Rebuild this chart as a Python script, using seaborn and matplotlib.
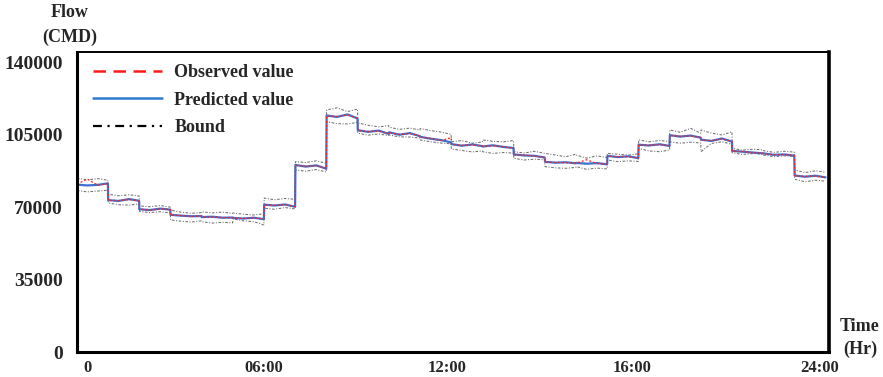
import numpy as np
import pandas as pd
import matplotlib
matplotlib.use("Agg")
import matplotlib.pyplot as plt
from matplotlib.lines import Line2D
import seaborn as sns

# Hourly blocks, four readings per hour
hours = np.arange(24)
sub_hour = [0.0, 0.33, 0.67, 0.99]

predicted = [
    80900, 80500, 80800, 81500,
    73400, 73000, 73900, 73100,
    69000, 68600, 69300, 68800,
    66300, 65900, 65600, 65700,
    65200, 65400, 64900, 65000,
    64800, 64500, 64900, 64200,
    71200, 70800, 71300, 70200,
    90400, 89600, 90200, 88600,
    114300, 113600, 114800, 112900,
    107200, 106400, 107000, 105400,
    106200, 105000, 105800, 104300,
    104000, 103100, 102400, 101300,
    100500, 99700, 100300, 99500,
    99300, 99900, 99100, 98600,
    95500, 95000, 94800, 94000,
    91900, 91500, 91700, 91200,
    91400, 91000, 91300, 90700,
    94800, 94200, 94600, 93700,
    100200, 99800, 100400, 99600,
    104800, 104100, 104600, 103600,
    102600, 102000, 103200, 101700,
    97200, 96800, 96400, 96000,
    96000, 95300, 95500, 94900,
    85300, 84700, 85200, 84400,
]

observed = [
    81100, 83600, 80600, 81300,
    73300, 73200, 73700, 73000,
    69100, 68500, 69200, 68900,
    66100, 66000, 65500, 65800,
    65300, 65200, 65000, 64900,
    64700, 64600, 64800, 64300,
    71000, 70900, 71200, 70300,
    90200, 89800, 90000, 88700,
    114100, 113800, 114600, 113000,
    107000, 106600, 106800, 105600,
    106000, 105200, 105600, 104400,
    103800, 103300, 102200, 103600,
    100300, 99900, 100100, 99600,
    99400, 99700, 99200, 98500,
    95300, 95200, 94600, 94100,
    91800, 91600, 91500, 91300,
    91300, 92900, 91100, 90800,
    94600, 94400, 94400, 93800,
    100000, 100000, 100200, 99700,
    104600, 104300, 104400, 103700,
    102400, 102200, 103000, 101800,
    97000, 96900, 96300, 96100,
    95800, 95400, 95300, 95000,
    85100, 84900, 85000, 84500,
]

upper_bound = [
    84000, 83200, 83800, 83000,
    76300, 75500, 76000, 75400,
    70600, 70200, 70800, 70000,
    68600, 67600, 67000, 67400,
    67800, 67200, 67600, 67000,
    67200, 66600, 66200, 66800,
    74400, 73600, 74200, 73800,
    92000, 91600, 92400, 91200,
    117000, 118000, 116200, 117400,
    110700, 109600, 108800, 109400,
    108700, 107600, 108200, 107300,
    108000, 107000, 106300, 105200,
    101600, 102200, 100900, 101500,
    102500, 101800, 101600, 102200,
    96800, 96200, 97000, 96000,
    96000, 95200, 94400, 95600,
    95200, 93700, 94800, 94000,
    96000, 95600, 95200, 95800,
    102500, 101600, 102200, 101800,
    107300, 106200, 108100, 105700,
    107300, 105800, 104900, 106400,
    98400, 97600, 98000, 97700,
    97300, 96500, 97000, 96600,
    88000, 86700, 87600, 86900,
]

lower_bound = [
    78000, 77400, 77800, 78200,
    72000, 71200, 71000, 71600,
    68000, 67400, 67800, 67200,
    63800, 63200, 62800, 63400,
    63000, 62300, 62700, 62400,
    64300, 63400, 63000, 61400,
    69500, 69000, 69800, 69200,
    88000, 87400, 88200, 87000,
    111300, 110400, 110200, 111000,
    105800, 104800, 105400, 104600,
    104900, 104000, 103900, 103400,
    102500, 101600, 101000, 100600,
    98100, 97400, 96700, 97200,
    96800, 96000, 96400, 96100,
    93600, 92800, 93200, 92900,
    89600, 89000, 88800, 89200,
    89600, 88300, 88900, 88500,
    92800, 92000, 92400, 92100,
    98400, 97200, 96800, 97600,
    101600, 100900, 101400, 101000,
    96800, 100800, 101600, 100400,
    96300, 95500, 95900, 95600,
    95200, 94400, 94800, 94500,
    83500, 82300, 83000, 82600,
]

y_ticks = [0, 35000, 70000, 105000, 140000]
x_tick_pos = [0.35, 6.0, 11.85, 17.8, 23.8]
x_tick_labels = ["0", "06:00", "12:00", "16:00", "24:00"]

time_hr = (hours[:, None] + np.array(sub_hour)[None, :]).ravel()
df = pd.DataFrame({
    "time": time_hr,
    "predicted": predicted,
    "observed": observed,
    "upper": upper_bound,
    "lower": lower_bound,
})

sns.set_style("white")
plt.rcParams["font.family"] = ["Liberation Serif", "DejaVu Serif"]
plt.rcParams["font.weight"] = "bold"

fig = plt.figure(figsize=(8.83, 3.77), dpi=100)
ax = fig.add_axes([0.0872, 0.0663, 0.8516, 0.7958])

bound_style = dict(color="#6e6e6e", linewidth=0.75, linestyle=(0, (2.5, 1.5, 1, 1.5)))
sns.lineplot(data=df, x="time", y="upper", ax=ax, **bound_style)
sns.lineplot(data=df, x="time", y="lower", ax=ax, **bound_style)
sns.lineplot(data=df, x="time", y="predicted", ax=ax, color="#3f6fd0", linewidth=1.6)
sns.lineplot(data=df, x="time", y="observed", ax=ax, color="#ff2020",
             linewidth=0.9, linestyle=(0, (1.6, 1.6)))

ax.set_xlim(0, 24.1)
ax.set_ylim(0, 145000)
ax.set_yticks(y_ticks)
ax.set_yticklabels([str(v) for v in y_ticks], fontsize=14, fontweight="bold")
ax.set_xticks(x_tick_pos)
ax.set_xticklabels(x_tick_labels, fontsize=12, fontweight="bold")
ax.tick_params(axis="y", length=0, pad=10)
ax.tick_params(axis="x", length=0, pad=6)
ax.set_xlabel("")
ax.set_ylabel("")

for side, lw in [("left", 2.2), ("bottom", 2.2), ("right", 2.6), ("top", 1.4)]:
    ax.spines[side].set_visible(True)
    ax.spines[side].set_color("black")
    ax.spines[side].set_linewidth(lw)

handles = [
    Line2D([], [], color="#ff1a1a", linewidth=1.8, linestyle=(0, (5, 3))),
    Line2D([], [], color="#2e7bd0", linewidth=1.8),
    Line2D([], [], color="black", linewidth=1.6, linestyle=(0, (4, 2.5, 1, 2.5))),
]
ax.legend(handles, ["Observed value", "Predicted value", "Bound"],
          loc="upper left", bbox_to_anchor=(0.0, 1.013), frameon=False,
          prop={"family": "Liberation Serif", "weight": "bold", "size": 13},
          handlelength=3.8, handletextpad=0.7, labelspacing=0.58)

fig.text(70 / 883, 1 - 25 / 377, "Flow\n(CMD)", ha="center", va="center",
         fontsize=13, fontweight="bold", linespacing=1.6)
fig.text(860 / 883, 1 - 338 / 377, "Time\n(Hr)", ha="center", va="center",
         fontsize=13, fontweight="bold", linespacing=1.5)

fig.savefig("out.png", dpi=100)
